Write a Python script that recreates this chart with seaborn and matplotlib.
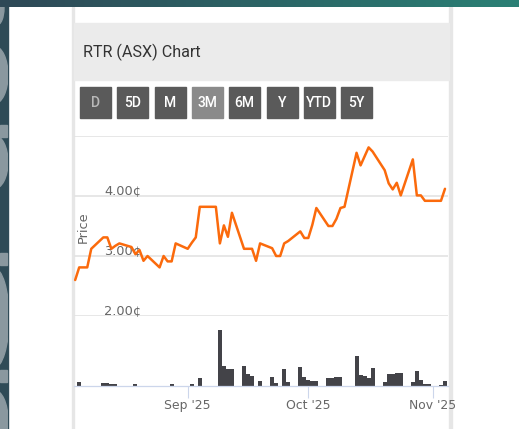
import pandas as pd
import numpy as np
import matplotlib
matplotlib.use("Agg")
import matplotlib.pyplot as plt
import matplotlib.dates as mdates
from matplotlib.patches import Rectangle, Ellipse
from matplotlib.colors import LinearSegmentedColormap
import seaborn as sns

# trading days shown on the 3M chart
dates = [
    "2025-08-04", "2025-08-05", "2025-08-06", "2025-08-07", "2025-08-08",
    "2025-08-11", "2025-08-12", "2025-08-13", "2025-08-14", "2025-08-15",
    "2025-08-18", "2025-08-19", "2025-08-20", "2025-08-21", "2025-08-22",
    "2025-08-25", "2025-08-26", "2025-08-27", "2025-08-28", "2025-08-29",
    "2025-09-01", "2025-09-02", "2025-09-03", "2025-09-04", "2025-09-05",
    "2025-09-08", "2025-09-09", "2025-09-10", "2025-09-11", "2025-09-12",
    "2025-09-15", "2025-09-16", "2025-09-17", "2025-09-18", "2025-09-19",
    "2025-09-22", "2025-09-23", "2025-09-24", "2025-09-25", "2025-09-26",
    "2025-09-29", "2025-09-30", "2025-10-01", "2025-10-02", "2025-10-03",
    "2025-10-06", "2025-10-07", "2025-10-08", "2025-10-09", "2025-10-10",
    "2025-10-13", "2025-10-14", "2025-10-15", "2025-10-16", "2025-10-17",
    "2025-10-20", "2025-10-21", "2025-10-22", "2025-10-23", "2025-10-24",
    "2025-10-27", "2025-10-28", "2025-10-29", "2025-10-30", "2025-10-31",
    "2025-11-03", "2025-11-04",
]

# closing price, cents
price = [
    2.60, 2.81, 2.81, 2.81, 3.12,
    3.31, 3.31, 3.12, 3.17, 3.21,
    3.15, 3.03, 3.10, 2.92, 3.00,
    2.81, 3.00, 2.91, 2.91, 3.21,
    3.12, 3.22, 3.31, 3.82, 3.82,
    3.82, 3.21, 3.51, 3.32, 3.72,
    3.12, 3.12, 3.12, 2.92, 3.21,
    3.13, 3.00, 3.00, 3.21, 3.25,
    3.41, 3.30, 3.30, 3.52, 3.80,
    3.50, 3.50, 3.62, 3.80, 3.82,
    4.72, 4.51, 4.66, 4.81, 4.74,
    4.43, 4.21, 4.11, 4.22, 4.01,
    4.61, 4.01, 4.01, 3.92, 3.92,
    3.92, 4.12,
]

# volume, millions of shares
volume = [
    0.00, 0.22, 0.00, 0.00, 0.00,
    0.14, 0.14, 0.09, 0.09, 0.00,
    0.00, 0.09, 0.00, 0.00, 0.00,
    0.00, 0.00, 0.00, 0.09, 0.00,
    0.00, 0.10, 0.00, 0.39, 0.00,
    0.00, 2.80, 1.02, 0.84, 0.84,
    1.02, 0.58, 0.50, 0.00, 0.27,
    0.44, 0.14, 0.00, 0.84, 0.22,
    0.94, 0.44, 0.29, 0.25, 0.25,
    0.39, 0.39, 0.44, 0.44, 0.00,
    1.50, 0.55, 0.50, 0.40, 0.89,
    0.21, 0.58, 0.58, 0.64, 0.64,
    0.19, 0.77, 0.30, 0.09, 0.08,
    0.03, 0.25,
]

range_buttons = ["D", "5D", "M", "3M", "6M", "Y", "YTD", "5Y"]
active_button = "3M"
disabled_button = "D"
price_ticks = [2, 3, 4]
month_ticks = ["2025-09-01", "2025-10-01", "2025-11-01"]
title = "RTR (ASX) Chart"

W, H = 519, 429
sns.set_theme(style="white")
plt.rcParams["font.family"] = ["DejaVu Sans"]

df = pd.DataFrame({"date": pd.to_datetime(dates), "price": price, "volume": volume})


def box(x0, y0, x1, y1):
    # pixel box (top-left origin) -> figure fraction rect
    return [x0 / W, 1 - y1 / H, (x1 - x0) / W, (y1 - y0) / H]


fig = plt.figure(figsize=(W / 100, H / 100), dpi=100)

# page background
bg = fig.add_axes([0, 0, 1, 1])
bg.set_xlim(0, W)
bg.set_ylim(H, 0)
bg.axis("off")

strip = Rectangle((0, 0), 8, H, color="#2f4b57", zorder=1)
bg.add_patch(strip)
for cx, cy, ew, eh in [(-3, 8, 14, 34), (-6, 75, 28, 58), (-6, 162, 28, 54), (-6, 318, 30, 100), (-6, 420, 28, 60)]:
    e = Ellipse((cx, cy), ew, eh, color="#8a989f", zorder=2)
    bg.add_patch(e)
    e.set_clip_path(strip)
for sy in [125, 253, 370]:
    bg.add_patch(Rectangle((0, sy), 7, 12, color="#8a989f", zorder=2))

cmap = LinearSegmentedColormap.from_list("bar", ["#2e4856", "#2a8075"])
bg.imshow(np.linspace(0, 1, 256)[None, :], extent=(0, W, 7.3, 0), aspect="auto", cmap=cmap, zorder=5)
bg.set_xlim(0, W)
bg.set_ylim(H, 0)

# panel
bg.add_patch(Rectangle((72, 7), 2.2, H, color="#e6e6e6", zorder=1))
bg.add_patch(Rectangle((448.5, 7), 3, H, color="#e6e6e6", zorder=1))
bg.add_patch(Rectangle((74, 23), 374.5, 57, color="#ebebeb", zorder=1))
bg.text(83, 52, title, fontsize=11.6, family=["Roboto", "DejaVu Sans"], color="#333333",
        ha="left", va="center", zorder=3)

for k, lab in enumerate(range_buttons):
    x0 = 80 + k * 37.3
    face = "#8a8a8a" if lab == active_button else "#5a5a5a"
    bg.add_patch(Rectangle((x0, 87), 31, 31, color=face, zorder=2))
    tcol = "#b8b8b8" if lab == disabled_button else "white"
    bg.text(x0 + 15.5, 103, lab, fontsize=10, fontweight="medium", family=["Roboto", "DejaVu Sans"],
            color=tcol, ha="center", va="center", zorder=3)

bg.text(83.5, 227, "Price", rotation=90, fontsize=9.3, color="#666666", ha="center", va="center", zorder=3)

x_left = pd.Timestamp("2025-08-04") - pd.Timedelta(hours=7)
x_right = pd.Timestamp("2025-11-04") + pd.Timedelta(hours=18)

# price panel
ax = fig.add_axes(box(74, 136, 448, 316))
ax.patch.set_alpha(0)
for g in [2, 3, 4, 5]:
    ax.axhline(g, color="#e3e3e3", lw=1.2, zorder=1)
for v in price_ticks:
    ax.text(0.08, v + 2.4 / 60, f"{v:.2f}¢", transform=ax.get_yaxis_transform(), fontsize=9.3,
            color="#666666", ha="left", va="baseline", zorder=1.5)
sns.lineplot(data=df, x="date", y="price", ax=ax, color="#fb6a0c", lw=1.8, zorder=3)
ax.set_xlim(x_left, x_right)
ax.set_ylim(2, 5)
ax.set_xticks([])
ax.set_yticks([])
ax.set_xlabel("")
ax.set_ylabel("")
for s in ax.spines.values():
    s.set_visible(False)

# volume panel
axv = fig.add_axes(box(74, 317, 448, 386))
axv.patch.set_alpha(0)
axv.bar(df["date"], df["volume"], width=1.0, color="#434348", linewidth=0)
axv.set_xlim(x_left, x_right)
axv.set_ylim(0, 3.45)
axv.set_yticks([])
axv.set_xticks(pd.to_datetime(month_ticks))
axv.xaxis.set_major_formatter(mdates.DateFormatter("%b '%y"))
axv.tick_params(axis="x", length=8.6, width=0.8, color="#ccd6eb", labelcolor="#666666",
                labelsize=8.9, pad=1, bottom=True)
for name, s in axv.spines.items():
    s.set_visible(name == "bottom")
axv.spines["bottom"].set_color("#ccd6eb")
axv.spines["bottom"].set_linewidth(0.9)

fig.savefig("out.png", dpi=100)
